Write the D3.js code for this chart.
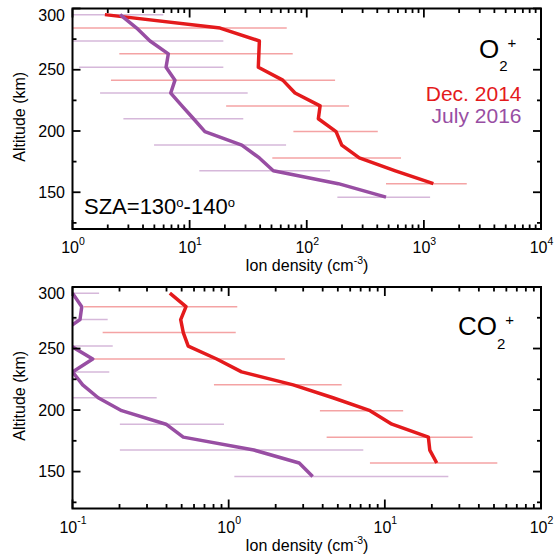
<!DOCTYPE html>
<html>
<head>
<meta charset="utf-8">
<script src="https://cdn.jsdelivr.net/npm/d3@7"></script>
<style>
  body { margin: 0; background: #fff; }
  text { font-family: "Liberation Sans", Arial, sans-serif; }
</style>
</head>
<body>
<svg id="chart" width="555" height="559"></svg>
<script>
// ---------- data ----------
const altDec = [295, 284, 273.5, 263, 252, 241.5, 231, 220.5, 210, 199.5, 188.5, 178, 167.5, 157];
const altJul = [295, 284, 273.5, 263, 252, 241.5, 231, 220.5, 210, 199.5, 188.5, 178, 167.5, 157, 146];

const o2Dec = [1.89, 18.2, 39.4, 39, 38.6, 62.4, 79.4, 130, 125.6, 178, 199, 281, 571, 1205];
const o2Jul = [2.55, 3.53, 4.59, 6.58, 6.29, 7.5, 6.9, 8.6, 10.8, 13.5, 27.9, 39.4, 51.8, 186, 475];
const co2Dec = [0.42, 0.533, 0.493, 0.512, 0.551, 0.838, 1.21, 2.59, 4.65, 8.04, 11.1, 19.0, 19.4, 21.5];
const co2Jul = [0.1, 0.1146, 0.1117, 0.085, 0.098, 0.1347, 0.1, 0.1162, 0.146, 0.2065, 0.397, 0.512, 1.45, 2.83, 3.45];

// variability bars
const barAltDec = [284, 263, 241.5, 220.5, 199.5, 178, 157];
const barAltJul = [295, 273.5, 252, 231, 210, 188.5, 167.5, 146];
const o2DecLo = [0.9, 2.51, 2.13, 20.5, 76.9, 50.8, 475];
const o2DecHi = [67.5, 75.9, 174.5, 229.7, 404, 638, 2323];
const o2JulLo = [0.9, 0.9, 1.14, 1.72, 2.72, 4.97, 12.1, 182.5];
const o2JulHi = [5.96, 19.4, 19.4, 31.3, 28.7, 66.6, 158, 1130];
const co2DecLo = [0.1186, 0.156, 0.133, 0.805, 3.84, 4.24, 8.03];
const co2DecHi = [1.135, 1.11, 2.29, 5.29, 13.1, 36.5, 52.5];
const co2JulLo = [0.05, 0.05, 0.05, 0.05, 0.05, 0.201, 0.201, 1.087];
const co2JulHi = [0.148, 0.168, 0.181, 0.172, 0.346, 0.933, 7.28, 25.5];

const altTicks = [150, 200, 250, 300];
const altAllTicks = [125, 150, 175, 200, 225, 250, 275, 300];
const seriesNames = ["Dec. 2014", "July 2016"];

const red = "#e41a1c";
const purple = "#984ea3";

const svg = d3.select("#chart");
const left = 72.5, right = 541;

function drawPanel(p) {
    const x = d3.scaleLog().domain(p.xDomain).range([left, right]);
    const y = d3.scaleLinear().domain([120, 300]).range([p.bottom, p.top]);
    const g = svg.append("g");

    g.append("clipPath").attr("id", p.id)
        .append("rect")
        .attr("x", left).attr("y", p.top)
        .attr("width", right - left).attr("height", p.bottom - p.top);

    const plot = g.append("g").attr("clip-path", `url(#${p.id})`);

    // bars
    const bars = (alts, lo, hi, color) => {
        plot.append("g").selectAll("line")
            .data(alts.map((a, i) => ({ a, lo: lo[i], hi: hi[i] })))
            .join("line")
            .attr("x1", d => x(d.lo)).attr("x2", d => x(d.hi))
            .attr("y1", d => y(d.a)).attr("y2", d => y(d.a))
            .attr("stroke", color).attr("stroke-opacity", 0.4)
            .attr("stroke-width", 1.5);
    };
    bars(barAltDec, p.decLo, p.decHi, red);
    bars(barAltJul, p.julLo, p.julHi, purple);

    const line = d3.line().x(d => x(d.v)).y(d => y(d.a));
    plot.append("path")
        .datum(altDec.map((a, i) => ({ a, v: p.dec[i] })))
        .attr("d", line).attr("fill", "none")
        .attr("stroke", red).attr("stroke-width", 3.5).attr("stroke-linejoin", "round");
    plot.append("path")
        .datum(altJul.map((a, i) => ({ a, v: p.jul[i] })))
        .attr("d", line).attr("fill", "none")
        .attr("stroke", purple).attr("stroke-width", 3.5).attr("stroke-linejoin", "round");

    // frame
    g.append("rect")
        .attr("x", left).attr("y", p.top)
        .attr("width", right - left).attr("height", p.bottom - p.top)
        .attr("fill", "none").attr("stroke", "#000").attr("stroke-width", 2);

    // inward ticks on all four sides
    const isDecade = v => Math.abs(Math.log10(v) - Math.round(Math.log10(v))) < 1e-6;
    const xTicks = x.ticks();
    const major = xTicks.filter(isDecade);
    const ticks = g.append("g").attr("stroke", "#000").attr("stroke-width", 1.8);
    const xLen = d => isDecade(d) ? 9 : 4.5;
    const yLen = d => altTicks.includes(d) ? 8 : 4;

    ticks.append("g").selectAll("line").data(xTicks).join("line")
        .attr("x1", d => x(d)).attr("x2", d => x(d))
        .attr("y1", p.bottom).attr("y2", d => p.bottom - xLen(d));
    ticks.append("g").selectAll("line").data(xTicks).join("line")
        .attr("x1", d => x(d)).attr("x2", d => x(d))
        .attr("y1", p.top).attr("y2", d => p.top + xLen(d));
    ticks.append("g").selectAll("line").data(altAllTicks).join("line")
        .attr("y1", d => y(d)).attr("y2", d => y(d))
        .attr("x1", left).attr("x2", d => left + yLen(d));
    ticks.append("g").selectAll("line").data(altAllTicks).join("line")
        .attr("y1", d => y(d)).attr("y2", d => y(d))
        .attr("x1", right).attr("x2", d => right - yLen(d));

    // tick labels
    g.append("g").attr("transform", `translate(0,${p.bottom})`)
        .call(d3.axisBottom(x).tickValues(major).tickSize(0).tickPadding(13))
        .call(s => s.select(".domain").remove())
        .call(s => s.selectAll(".tick text")
            .attr("font-size", 16).attr("fill", "#000")
            .text("10")
            .append("tspan")
            .attr("font-size", 10.5).attr("dy", -8.5)
            .text(d => String(Math.round(Math.log10(d)))));

    g.append("g").attr("transform", `translate(${left},0)`)
        .call(d3.axisLeft(y).tickValues(altTicks).tickSize(0).tickPadding(7.5))
        .call(s => s.select(".domain").remove())
        .call(s => s.selectAll(".tick text").attr("font-size", 16).attr("fill", "#000")
            .attr("dy", d => d === 300 ? "0.72em" : "0.32em"));

    // axis titles
    const xt = g.append("text")
        .attr("x", (left + right) / 2).attr("y", p.bottom + 42)
        .attr("text-anchor", "middle").attr("font-size", 16);
    xt.append("tspan").text("Ion density (cm");
    xt.append("tspan").attr("font-size", 10.5).attr("dy", -7).text("-3");
    xt.append("tspan").attr("dy", 7).text(")");

    g.append("text")
        .attr("transform", `translate(25,${(p.top + p.bottom) / 2 - 2}) rotate(-90)`)
        .attr("text-anchor", "middle").attr("font-size", 16)
        .text("Altitude (km)");

    // species label
    const sp = g.append("text")
        .attr("x", p.labelX).attr("y", p.top + p.labelDy)
        .attr("font-size", 26);
    sp.append("tspan").text(p.species);
    sp.append("tspan").attr("font-size", 15).attr("dy", 13.5).text("2");
    sp.append("tspan").attr("font-size", 15).attr("dy", -23.5).text("+");

    return { x, y, g };
}

const topPanel = drawPanel({
    id: "clipTop", top: 8.5, bottom: 229, xDomain: [1, 1e4],
    dec: o2Dec, jul: o2Jul,
    decLo: o2DecLo, decHi: o2DecHi, julLo: o2JulLo, julHi: o2JulHi,
    species: "O", labelX: 479, labelDy: 49
});

drawPanel({
    id: "clipBot", top: 287, bottom: 508.5, xDomain: [0.1, 100],
    dec: co2Dec, jul: co2Jul,
    decLo: co2DecLo, decHi: co2DecHi, julLo: co2JulLo, julHi: co2JulHi,
    species: "CO", labelX: 458, labelDy: 48
});

// legend
topPanel.g.append("text").attr("x", 521.5).attr("y", 100.5)
    .attr("text-anchor", "end").attr("font-size", 21).attr("fill", red)
    .text(seriesNames[0]);
topPanel.g.append("text").attr("x", 521.5).attr("y", 122.5)
    .attr("text-anchor", "end").attr("font-size", 21).attr("fill", purple)
    .text(seriesNames[1]);

// SZA note
const sza = topPanel.g.append("text").attr("x", 84).attr("y", 214).attr("font-size", 22);
sza.append("tspan").text("SZA=130");
sza.append("tspan").attr("font-size", 13).attr("dy", -7.5).text("o");
sza.append("tspan").attr("dy", 7.5).text("-140");
sza.append("tspan").attr("font-size", 13).attr("dy", -7.5).text("o");
</script>
</body>
</html>
